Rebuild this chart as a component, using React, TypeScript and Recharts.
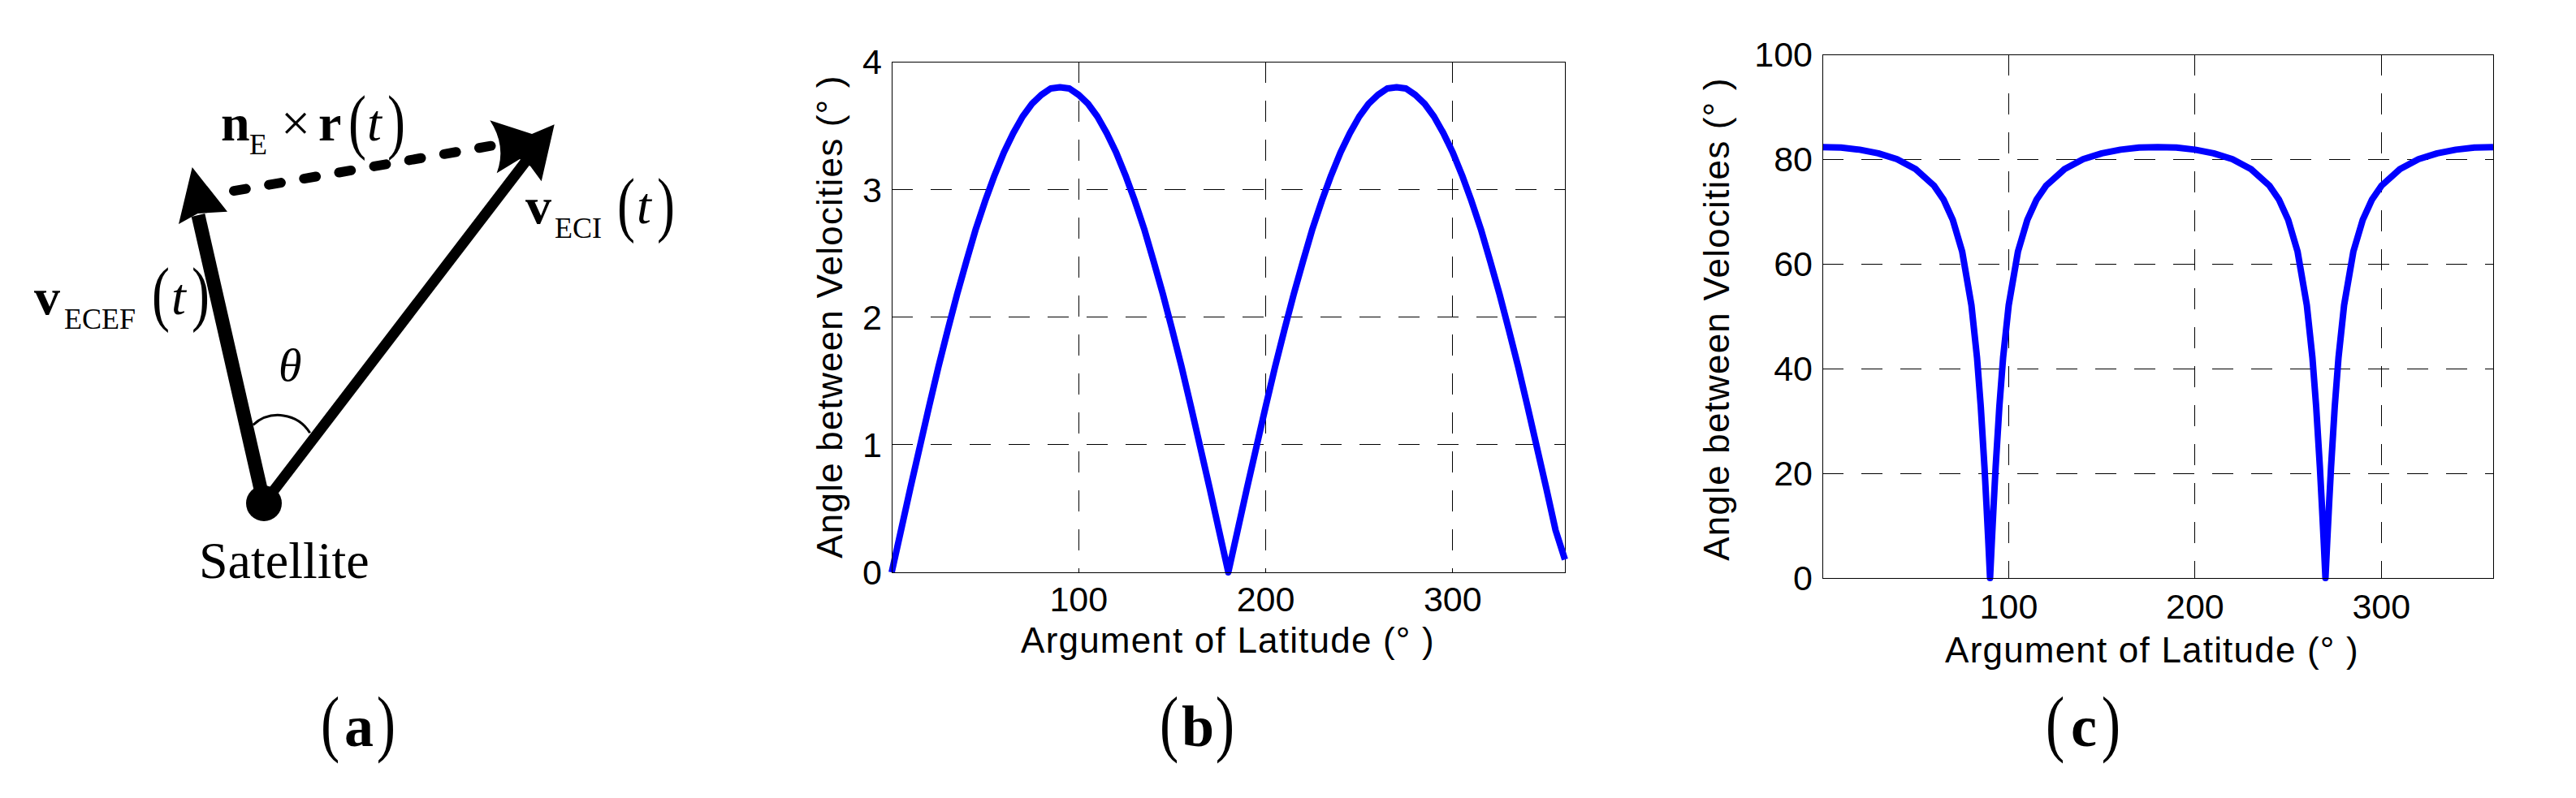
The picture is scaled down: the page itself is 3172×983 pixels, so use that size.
import { LineChart, Line, XAxis, YAxis, CartesianGrid, ReferenceArea } from 'recharts';

// (b) angle between velocities, read every 5 deg of argument of latitude
const latitudeB = [
  0, 5, 10, 15, 20, 25, 30, 35, 40, 45, 50, 55, 60, 65, 70, 75, 80, 85, 90,
  95, 100, 105, 110, 115, 120, 125, 130, 135, 140, 145, 150, 155, 160, 165, 170, 175, 180,
  185, 190, 195, 200, 205, 210, 215, 220, 225, 230, 235, 240, 245, 250, 255, 260, 265, 270,
  275, 280, 285, 290, 295, 300, 305, 310, 315, 320, 325, 330, 335, 340, 345, 350, 355, 360,
];
const angleB = [
  0, 0.33, 0.66, 0.98, 1.3, 1.61, 1.9, 2.18, 2.44, 2.69, 2.91, 3.11, 3.29, 3.44, 3.57, 3.67, 3.74, 3.79, 3.8,
  3.79, 3.74, 3.67, 3.57, 3.44, 3.29, 3.11, 2.91, 2.69, 2.44, 2.18, 1.9, 1.61, 1.3, 0.98, 0.66, 0.33, 0,
  0.33, 0.66, 0.98, 1.3, 1.61, 1.9, 2.18, 2.44, 2.69, 2.91, 3.11, 3.29, 3.44, 3.57, 3.67, 3.74, 3.79, 3.8,
  3.79, 3.74, 3.67, 3.57, 3.44, 3.29, 3.11, 2.91, 2.69, 2.44, 2.18, 1.9, 1.61, 1.3, 0.98, 0.66, 0.33, 0.1,
];

// (c) denser near the two dips
const latitudeC = [
  0, 10, 20, 30, 40, 50, 60, 65, 70, 75, 80, 83, 85, 87, 88, 89, 90, 91, 92, 93, 95, 97,
  100, 105, 110, 115, 120, 130, 140, 150, 160, 170, 180, 190, 200, 210, 220, 230, 240, 245,
  250, 255, 260, 263, 265, 267, 268, 269, 270, 271, 272, 273, 275, 277, 280, 285, 290, 295,
  300, 310, 320, 330, 340, 350, 360,
];
const angleC = [
  82.3, 82.2, 81.8, 81.1, 80.0, 78.1, 74.9, 72.3, 68.4, 62.4, 52.1, 42.1, 32.8, 21.2, 14.5, 7.4, 0, 7.4, 14.5, 21.2, 32.8, 42.1,
  52.1, 62.4, 68.4, 72.3, 74.9, 78.1, 80.0, 81.1, 81.8, 82.2, 82.3, 82.2, 81.8, 81.1, 80.0, 78.1, 74.9, 72.3,
  68.4, 62.4, 52.1, 42.1, 32.8, 21.2, 14.5, 7.4, 0, 7.4, 14.5, 21.2, 32.8, 42.1, 52.1, 62.4, 68.4, 72.3,
  74.9, 78.1, 80.0, 81.1, 81.8, 82.2, 82.3,
];

const latitudeTicks = [100, 200, 300];
const angleTicksB = [0, 1, 2, 3, 4];
const angleTicksC = [0, 20, 40, 60, 80, 100];

const dataB = latitudeB.map((u, i) => ({ u, a: angleB[i] }));
const dataC = latitudeC.map((u, i) => ({ u, a: angleC[i] }));

const sans = '"Liberation Sans", Arial, Helvetica, sans-serif';
const serif = '"Liberation Serif", "Times New Roman", serif';
const tickStyle = { fill: '#000', fontSize: 43, fontFamily: sans };
const gridStyle = { stroke: '#000', strokeWidth: 1, strokeDasharray: '26 22', shapeRendering: 'crispEdges' };
const axisLineStyle = { stroke: '#000', strokeWidth: 1, shapeRendering: 'crispEdges' };
const titleStyle = { fontFamily: sans, fontSize: 44, letterSpacing: 1.2, fill: '#000' };

function AnglePlot({ data, yMax, yTicks, yWidth, xMargin, margin }) {
  return (
    <LineChart width={margin.w} height={983} data={data} margin={margin.m}>
      <CartesianGrid {...gridStyle} />
      <XAxis
        dataKey="u"
        type="number"
        domain={[0, 360]}
        ticks={latitudeTicks}
        interval={0}
        height={60}
        tickSize={0}
        tickMargin={xMargin}
        tickLine={false}
        axisLine={axisLineStyle}
        tick={tickStyle}
      />
      <YAxis
        type="number"
        domain={[0, yMax]}
        ticks={yTicks}
        interval={0}
        width={yWidth}
        tickSize={0}
        tickMargin={12}
        tickLine={false}
        axisLine={axisLineStyle}
        tick={tickStyle}
      />
      <ReferenceArea
        x1={0}
        x2={360}
        y1={0}
        y2={yMax}
        fill="none"
        fillOpacity={0}
        stroke="#000"
        strokeWidth={1}
        shapeRendering="crispEdges"
      />
      <Line
        type="linear"
        dataKey="a"
        stroke="#0000ff"
        strokeWidth={8}
        strokeLinejoin="round"
        dot={false}
        activeDot={false}
        isAnimationActive={false}
      />
    </LineChart>
  );
}

// tall thin brackets, as the formula editor drew them
function Paren({ x, y, ch, anchor = 'start', size = 66, stretch = 1.35 }) {
  return (
    <text
      transform={`translate(${x} ${y}) scale(1 ${stretch})`}
      textAnchor={anchor}
      fontSize={size}
      fontFamily={serif}
      fill="#000"
    >
      {ch}
    </text>
  );
}

function PanelLabel({ x, letter }) {
  return (
    <g>
      <Paren x={x - 46} y={921} ch="(" size={70} stretch={1.3} />
      <text x={x + 1} y={919} textAnchor="middle" fontFamily={serif} fontSize={72} fontWeight="bold" fill="#000">
        {letter}
      </text>
      <Paren x={x + 46} y={921} ch=")" anchor="end" size={70} stretch={1.3} />
    </g>
  );
}

function VectorDiagram() {
  return (
    <g fill="#000" fontFamily={serif}>
      {/* dashed n_E x r(t) */}
      <line x1={288} y1={235.2} x2={604.5} y2={179.7} stroke="#000" strokeWidth={12} strokeLinecap="round" strokeDasharray="15 28.8" />
      {/* v_ECEF */}
      <line x1={325} y1={620} x2={244} y2={265} stroke="#000" strokeWidth={17} />
      <polygon points="236.7,206 280,260.7 243.5,263 220,276" />
      {/* v_ECI */}
      <line x1={325} y1={620} x2={648} y2={198} stroke="#000" strokeWidth={13} />
      <path d="M603.3,148.3 L655,165 L682.7,153.3 L666.7,223.3 L653.3,205 L640,196 L611.7,213.3 Q624,180 603.3,148.3 Z" />
      <circle cx={325} cy={620} r={22} />
      <path d="M311.7,523.3 A46,46 0 0 1 381.7,533.3" fill="none" stroke="#000" strokeWidth={3} />

      <text x={272} y={172.7} fontSize={64} fontWeight="bold">n</text>
      <text x={307} y={190} fontSize={36}>E</text>
      <text x={346} y={172.7} fontSize={64}>×</text>
      <text x={392} y={172.7} fontSize={64} fontWeight="bold">r</text>
      <Paren x={429} y={178.5} ch="(" />
      <text x={452} y={172.7} fontSize={64} fontStyle="italic">t</text>
      <Paren x={477} y={178.5} ch=")" />

      <text x={42} y={386.7} fontSize={64} fontWeight="bold">v</text>
      <text x={79} y={405} fontSize={36}>ECEF</text>
      <Paren x={187} y={391} ch="(" />
      <text x={211} y={386.7} fontSize={64} fontStyle="italic">t</text>
      <Paren x={236} y={391} ch=")" />

      <text x={647} y={275} fontSize={64} fontWeight="bold">v</text>
      <text x={683} y={293.3} fontSize={36}>ECI</text>
      <Paren x={760} y={281} ch="(" />
      <text x={784} y={275} fontSize={64} fontStyle="italic">t</text>
      <Paren x={809} y={281} ch=")" />

      <text x={343} y={469} fontSize={58} fontStyle="italic">θ</text>
      <text x={245} y={711.7} fontSize={64}>Satellite</text>
    </g>
  );
}

export default function App() {
  return (
    <div style={{ position: 'absolute', left: 0, top: 0, width: 3172, height: 983, background: '#fff', overflow: 'hidden' }}>
      <div style={{ position: 'absolute', left: 960, top: 0 }}>
        <AnglePlot
          data={dataB}
          yMax={4}
          yTicks={angleTicksB}
          yWidth={138}
          xMargin={17}
          margin={{ w: 980, m: { top: 76, right: 13, bottom: 218, left: 0 } }}
        />
      </div>
      <div style={{ position: 'absolute', left: 2100, top: 0 }}>
        <AnglePlot
          data={dataC}
          yMax={100}
          yTicks={angleTicksC}
          yWidth={144}
          xMargin={19}
          margin={{ w: 990, m: { top: 67, right: 20, bottom: 211, left: 0 } }}
        />
      </div>
      <svg width={3172} height={983} style={{ position: 'absolute', left: 0, top: 0, pointerEvents: 'none' }}>
        <VectorDiagram />

        <text x={1037} y={390} transform="rotate(-90 1037 390)" textAnchor="middle" style={titleStyle}>
          Angle between Velocities (° )
        </text>
        <text x={1512} y={804} textAnchor="middle" style={titleStyle}>
          Argument of Latitude (° )
        </text>
        <text x={2129} y={393} transform="rotate(-90 2129 393)" textAnchor="middle" style={titleStyle}>
          Angle between Velocities (° )
        </text>
        <text x={2650} y={816} textAnchor="middle" style={titleStyle}>
          Argument of Latitude (° )
        </text>

        <PanelLabel x={441} letter="a" />
        <PanelLabel x={1474} letter="b" />
        <PanelLabel x={2565} letter="c" />
      </svg>
    </div>
  );
}
